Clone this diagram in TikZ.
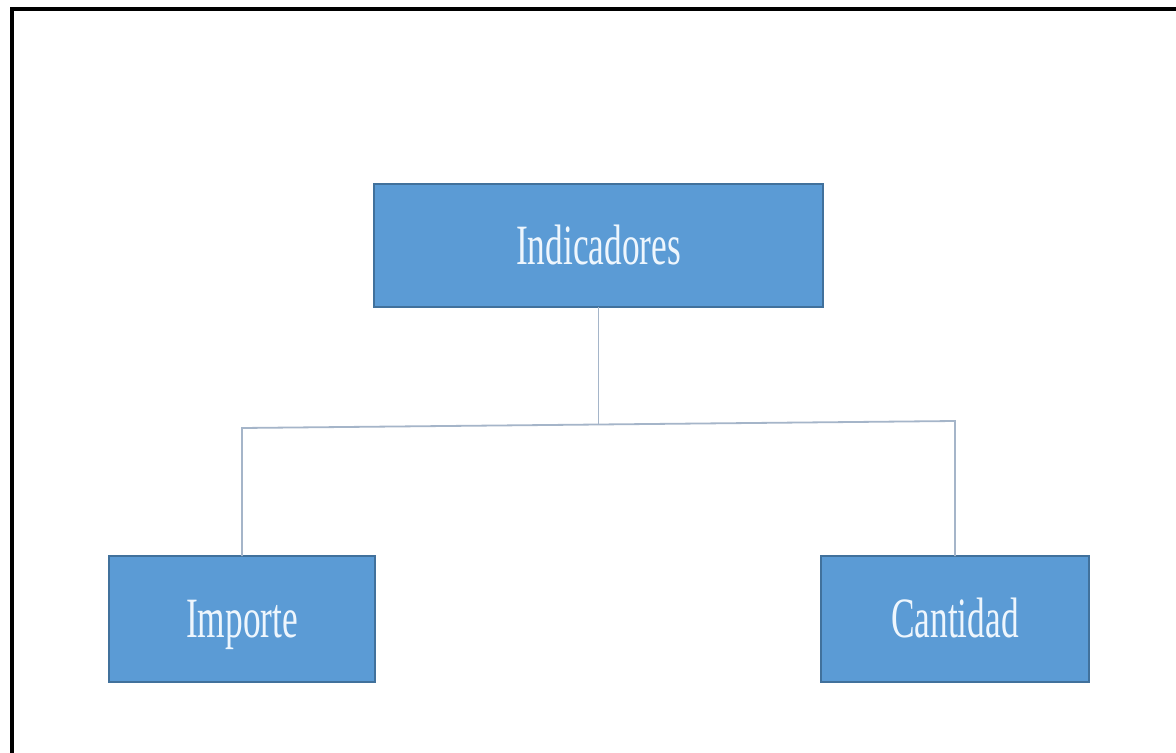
\documentclass[tikz,border=0pt]{standalone}
\usepackage{fontspec}
\setmainfont{Liberation Serif}
\usepackage{graphicx}
\definecolor{boxfill}{RGB}{91,155,213}
\definecolor{boxedge}{RGB}{65,113,156}
\definecolor{boxtext}{RGB}{238,246,253}
\definecolor{linkcol}{RGB}{165,181,201}
% narrow serif labels
\newcommand{\narrowlabel}[1]{\scalebox{0.62}[1]{#1}}
\begin{document}
\begin{tikzpicture}[x=0.5pt,y=-0.5pt,
  box/.style={draw=boxedge, fill=boxfill, line width=0.6pt, inner sep=0pt, outer sep=0pt,
    text=boxtext, font=\fontsize{28.5}{30}\selectfont, text height=18.9pt, text depth=0pt},
  link/.style={draw=linkcol, line width=0.9pt}]
\useasboundingbox (0,0) rectangle (1176,753);
\fill[white] (0,0) rectangle (1176,753);
% page frame (top and left edges)
\draw[line width=1.6pt] (1176,9) -- (12,9) -- (12,753);
% boxes
\node[box, minimum width=224.5pt, minimum height=61.5pt] (ind) at (598.5,245.5) {\narrowlabel{Indicadores}};
\node[box, minimum width=133pt, minimum height=63pt] (imp) at (242,619) {\narrowlabel{Importe}};
\node[box, minimum width=134pt, minimum height=63pt] (can) at (955,619) {\narrowlabel{Cantidad}};
% connector junctions
\coordinate (jl) at (242,428);
\coordinate (jm) at (598.5,424.5);
\coordinate (jr) at (955,421);
\draw[link] (ind.south) -- (jm);
\draw[link] (imp.north) -- (jl) -- (jr) -- (can.north);
\end{tikzpicture}
\end{document}
